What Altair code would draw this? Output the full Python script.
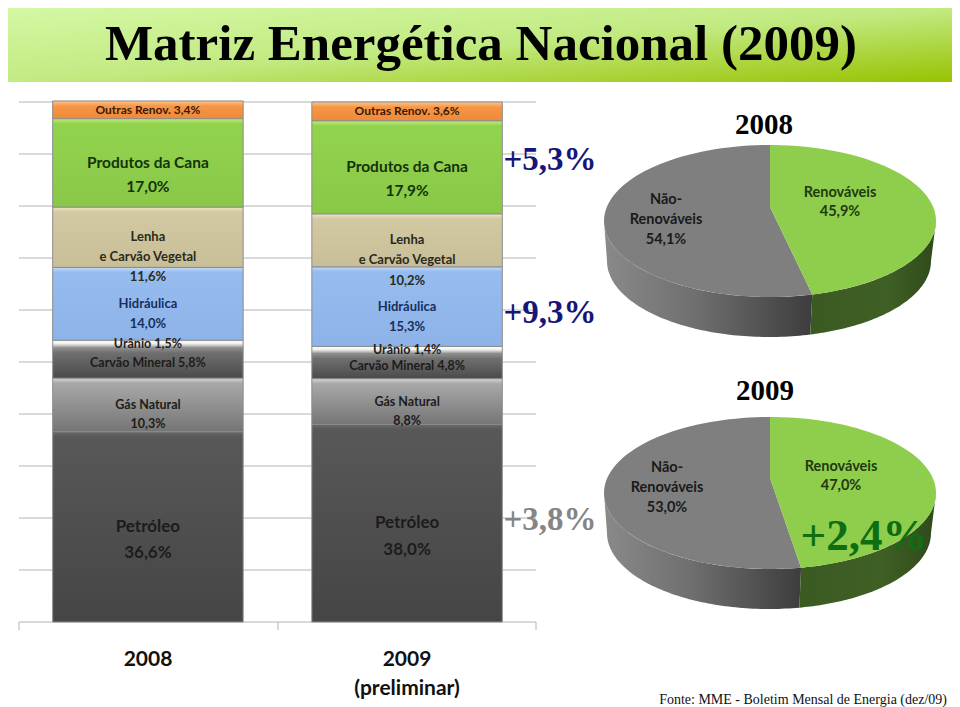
import math
import altair as alt
import pandas as pd

# ---- data ----
YEARS = ["2008", "2009"]
SOURCES = ["Petróleo", "Gás Natural", "Carvão Mineral", "Urânio", "Hidráulica",
           "Lenha", "Produtos da Cana", "Outras Renov."]
SHARE_2008 = [36.6, 10.3, 5.8, 1.5, 14.0, 11.6, 17.0, 3.4]
SHARE_2009 = [38.0, 8.8, 4.8, 1.4, 15.3, 10.2, 17.9, 3.6]
LABEL_2008 = ["Petróleo\n36,6%", "Gás Natural\n10,3%", "Carvão Mineral  5,8%", "Urânio 1,5%",
              "Hidráulica\n14,0%", "Lenha\ne Carvão Vegetal\n11,6%", "Produtos da Cana\n17,0%",
              "Outras Renov.  3,4%"]
LABEL_2009 = ["Petróleo\n38,0%", "Gás Natural\n8,8%", "Carvão Mineral  4,8%", "Urânio 1,4%",
              "Hidráulica\n15,3%", "Lenha\ne Carvão Vegetal\n10,2%", "Produtos da Cana\n17,9%",
              "Outras Renov. 3,6%"]
RENEW_2008 = 45.9
RENEW_2009 = 47.0
GRID_TICKS = [0, 10, 20, 30, 40, 50, 60, 70, 80, 90, 100]

# ---- styling ----
M = 8  # page margin
W, H = 944, 691
LATO = "Lato"
NARROW = "Liberation Sans Narrow"
STYLE = {
    "Petróleo":         dict(stops=["#6a6a6a", "#585858", "#454545"], size=17, color="#1c1c1c"),
    "Gás Natural":      dict(stops=["#d8d8d8", "#a8a8a8", "#757575"], size=12.5, color="#1c1c1c"),
    "Carvão Mineral":   dict(stops=["#8f8f8f", "#6f6f6f", "#4a4a4a"], size=12.5, color="#1c1c1c"),
    "Urânio":           dict(stops=["#ffffff", "#f0f0ea", "#8d8d8d"], size=12.5, color="#222222"),
    "Hidráulica":       dict(stops=["#c6dcf8", "#95bbef", "#8db3e8"], size=13, color="#17305c"),
    "Lenha":            dict(stops=["#efe7c8", "#d2c8a2", "#c8be98"], size=13, color="#2a2a1a"),
    "Produtos da Cana": dict(stops=["#c2ec82", "#92d34e", "#8ac848"], size=15.5, color="#14330a"),
    "Outras Renov.":    dict(stops=["#fcc88c", "#f79646", "#ee8a3a"], size=12, color="#3a1a06"),
}

x_scale = alt.Scale(domain=YEARS, range=[19 - M, 536 - M], paddingInner=0.265, paddingOuter=0.13)
y_scale = alt.Scale(domain=[0, 100], range=[622 - M, 102 - M])
bar_x = alt.X("year:N", axis=None, scale=x_scale)
bar_y = alt.Y("low:Q", axis=None, scale=y_scale)


def note(text, x, y, size, color="#000000", font=NARROW, weight="bold", align="center"):
    df = pd.DataFrame({"t": [text]})
    return alt.Chart(df).mark_text(font=font, fontSize=size, fontWeight=weight, color=color,
                                   align=align, baseline="middle").encode(
        x=alt.value(x - M), y=alt.value(y - M), text="t:N")


# ---- header ----
header = alt.Chart(pd.DataFrame({"a": [0]})).mark_rect(
    fill=alt.Gradient(gradient="linear", x1=0, x2=1, y1=0, y2=1,
                      stops=[alt.GradientStop(offset=0, color="#d4f8a4"),
                             alt.GradientStop(offset=0.5, color="#c2ea82"),
                             alt.GradientStop(offset=1, color="#98c200")])
).encode(x=alt.value(0), x2=alt.value(W), y=alt.value(0), y2=alt.value(82 - M))

# ---- grid ----
grid = alt.Chart(pd.DataFrame({"low": GRID_TICKS})).mark_rule(color="#b4b4b4", strokeWidth=1).encode(
    x=alt.value(19 - M), x2=alt.value(536 - M), y=bar_y)
axis_ticks = [
    alt.Chart(pd.DataFrame({"a": [0]})).mark_rule(color="#b4b4b4").encode(
        x=alt.value(px - M), y=alt.value(622 - M), y2=alt.value(630 - M))
    for px in (19, 278, 536)
]

# ---- stacked bars ----
bars, labels = [], []
for year, shares, texts in ((YEARS[0], SHARE_2008, LABEL_2008), (YEARS[1], SHARE_2009, LABEL_2009)):
    low = 0.0
    for source, share, text in zip(SOURCES, shares, texts):
        st = STYLE[source]
        df = pd.DataFrame({"year": [year], "low": [low], "high": [low + share],
                           "mid": [low + share / 2], "label": [text]})
        px_h = share * 5.2
        bevel = min(0.45, 5 / px_h)
        bars.append(alt.Chart(df).mark_bar(
            stroke="#8c8c8c", strokeWidth=1,
            fill=alt.Gradient(gradient="linear", x1=0, x2=0, y1=0, y2=1,
                              stops=[alt.GradientStop(offset=0, color=st["stops"][0]),
                                     alt.GradientStop(offset=bevel, color=st["stops"][1]),
                                     alt.GradientStop(offset=1, color=st["stops"][2])])
        ).encode(x=bar_x, y=bar_y, y2="high:Q"))
        labels.append(alt.Chart(df).mark_text(
            font=LATO, fontWeight="bold", fontSize=st["size"], color=st["color"],
            lineBreak="\n", lineHeight=st["size"] * 1.55, baseline="middle"
        ).encode(x=bar_x, y=alt.Y("mid:Q", axis=None, scale=y_scale), text="label:N"))
        low += share


# ---- 3D pies, built from the renewable share ----
def ell(cx, cy, rx, ry, deg):
    t = math.radians(deg)
    return [cx + rx * math.sin(t), cy - ry * math.cos(t)]


def arc_points(cx, cy, rx, ry, a, b, n=80):
    return [ell(cx, cy, rx, ry, a + (b - a) * i / n) for i in range(n + 1)]


def polygon(points):
    return {"type": "Feature", "properties": {},
            "geometry": {"type": "Polygon", "coordinates": [points + [points[0]]]}}


def shape(points, fill):
    return alt.Chart(alt.Data(values=[polygon(points)])).mark_geoshape(
        fill=fill, strokeWidth=0).project(type="identity", scale=1, translate=[-M, -M])


def hgrad(stops):
    return alt.Gradient(gradient="linear", x1=0, x2=1, y1=0, y2=0,
                        stops=[alt.GradientStop(offset=o, color=c) for o, c in stops])


def pie(share, cx, cy, rx, ry, apex_y, depth):
    end = share / 100 * 360
    side_green = arc_points(cx, cy, rx, ry, 90, end) + arc_points(cx - 1, cy + depth, rx - 4, ry, end, 90)
    side_gray = arc_points(cx, cy, rx, ry, end, 270) + arc_points(cx - 1, cy + depth, rx - 4, ry, 270, end)
    apex = [cx, apex_y]
    top_green = [apex] + arc_points(cx, cy, rx, ry, 0, end)
    top_gray = [apex] + arc_points(cx, cy, rx, ry, end, 360)
    return [
        shape(side_gray, hgrad([(0, "#8a8a8a"), (0.45, "#6e6e6e"), (1, "#3d3d3d")])),
        shape(side_green, hgrad([(0, "#3a5a22"), (0.6, "#3f6024"), (1, "#2f4a1a")])),
        shape(top_gray, "#7f7f7f"),
        shape(top_green, "#8fce4d"),
    ]


pie_layers = pie(RENEW_2008, 770, 221, 166, 76, 207, 40) + pie(RENEW_2009, 770, 493, 166, 76, 478, 40)

# ---- text ----
texts = [
    note("Matriz Energética Nacional (2009)", 481, 45, 51),
    note("+5,3%", 550, 160, 33, "#16167a"),
    note("+9,3%", 550, 313, 33, "#16167a"),
    note("+3,8%", 550, 520, 33, "#858585"),
    note("2008", 764, 125, 29),
    note("2009", 765, 391, 29),
    note("Renováveis", 840, 193, 14.5, "#1f3a10", LATO),
    note("45,9%", 840, 212, 14.5, "#1f3a10", LATO),
    note("Não-", 666, 200, 14.5, "#1a1a1a", LATO),
    note("Renováveis", 666, 220, 14.5, "#1a1a1a", LATO),
    note("54,1%", 666, 240, 14.5, "#1a1a1a", LATO),
    note("Renováveis", 841, 467, 14.5, "#1f3a10", LATO),
    note("47,0%", 841, 486, 14.5, "#1f3a10", LATO),
    note("Não-", 667, 468, 14.5, "#1a1a1a", LATO),
    note("Renováveis", 667, 488, 14.5, "#1a1a1a", LATO),
    note("53,0%", 667, 508, 14.5, "#1a1a1a", LATO),
    note("+2,4%", 864, 536, 45, "#0f6e12"),
    note("2008", 148, 660, 21, "#111111", LATO),
    note("2009", 407, 660, 21, "#111111", LATO),
    note("(preliminar)", 407, 689, 21, "#111111", LATO),
    note("Fonte: MME - Boletim Mensal de Energia (dez/09)", 947, 700, 14, "#111111", NARROW, "normal", "right"),
]

chart = alt.layer(header, grid, *axis_ticks, *bars, *labels, *pie_layers, *texts).properties(
    width=W, height=H, padding=0, background="#ffffff").configure_view(stroke=None)

chart.save("out.html", embed_options={"renderer": "svg", "actions": False})
